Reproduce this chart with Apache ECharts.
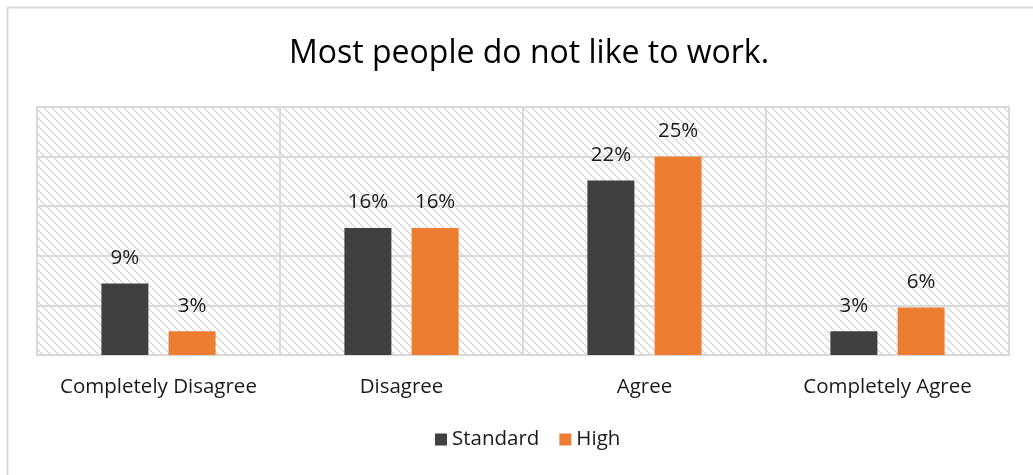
<!DOCTYPE html>
<html>
<head>
<meta charset="utf-8">
<script src="https://cdn.jsdelivr.net/npm/echarts@6/dist/echarts.min.js"></script>
<style>
  html, body { margin: 0; padding: 0; background: #ffffff; }
  #chart { width: 1033px; height: 475px; }
</style>
</head>
<body>
<div id="chart"></div>
<script>
// Survey responses (percent of respondents)
const titleText = 'Most people do not like to work.';
const categories = ['Completely Disagree', 'Disagree', 'Agree', 'Completely Agree'];
const seriesNames = ['Standard', 'High'];
const standardValues = [9, 16, 22, 3];
const highValues = [3, 16, 25, 6];

const FONT = '"Open Sans", "Noto Sans", sans-serif';

// Light downward-diagonal hatch for the plot background
function hatchPattern() {
  const c = document.createElement('canvas');
  c.width = 8; c.height = 8;
  const g = c.getContext('2d');
  g.fillStyle = '#ffffff';
  g.fillRect(0, 0, 8, 8);
  g.strokeStyle = '#d9d9d9';
  g.lineWidth = 1.5;
  [-8, 0, 8].forEach(k => {
    g.beginPath();
    g.moveTo(k, 0);
    g.lineTo(k + 8, 8);
    g.stroke();
  });
  return { image: c, repeat: 'repeat' };
}

const chart = echarts.init(document.getElementById('chart'), null, { renderer: 'canvas' });

const labelCfg = {
  show: true,
  position: 'top',
  distance: 15,
  formatter: p => p.value + '%',
  fontFamily: FONT,
  fontSize: 20.5,
  color: '#1a1a1a'
};

chart.setOption({
  animation: false,
  backgroundColor: '#ffffff',
  title: {
    text: titleText,
    left: 284,
    top: 33,
    textStyle: { fontFamily: FONT, fontSize: 32, fontWeight: 'normal', color: '#000000' }
  },
  graphic: [{
    type: 'rect',
    shape: { x: 7.5, y: 7.5, width: 1060, height: 500 },
    style: { fill: null, stroke: '#d9d9d9', lineWidth: 2 },
    silent: true
  }],
  legend: {
    data: seriesNames,
    bottom: 20,
    left: 430,
    itemWidth: 12,
    itemHeight: 12,
    itemGap: 20,
    icon: 'rect',
    textStyle: { fontFamily: FONT, fontSize: 20.5, color: '#1a1a1a' }
  },
  grid: {
    left: 37,
    right: 24,
    top: 107,
    bottom: 120,
    show: true,
    backgroundColor: hatchPattern(),
    borderColor: '#d9d9d9',
    borderWidth: 2
  },
  xAxis: {
    type: 'category',
    data: categories,
    axisLine: { show: true, lineStyle: { color: '#d9d9d9', width: 2 } },
    axisTick: { show: false },
    splitLine: { show: true, lineStyle: { color: '#d9d9d9', width: 2 } },
    axisLabel: { margin: 22, fontFamily: FONT, fontSize: 20.5, color: '#1a1a1a', interval: 0 }
  },
  yAxis: {
    type: 'value',
    min: 0,
    max: 31.25,
    interval: 6.25,
    axisLabel: { show: false },
    axisLine: { show: false },
    axisTick: { show: false },
    splitLine: { show: true, lineStyle: { color: '#d9d9d9', width: 2 } }
  },
  series: [
    {
      name: seriesNames[0],
      type: 'bar',
      data: standardValues,
      barWidth: 47,
      barGap: '43%',
      itemStyle: { color: '#404040' },
      label: labelCfg
    },
    {
      name: seriesNames[1],
      type: 'bar',
      data: highValues,
      barWidth: 47,
      barGap: '43%',
      itemStyle: { color: '#ed7d31' },
      label: labelCfg
    }
  ]
});
</script>
</body>
</html>
